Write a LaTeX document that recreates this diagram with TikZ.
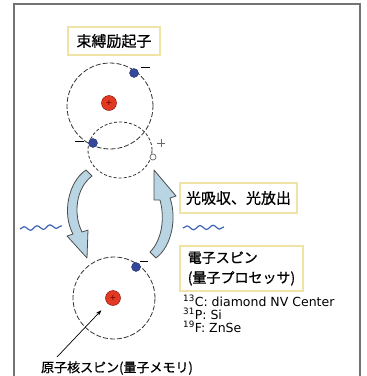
\documentclass[tikz,border=0pt]{standalone}
\usepackage{fontspec}
\setmainfont{DejaVu Sans}
\newfontfamily\jp[FakeBold=0.8]{Noto Sans CJK JP}
\usetikzlibrary{arrows.meta,decorations.pathmorphing}
\definecolor{nucred}{HTML}{E23A22}
\definecolor{elecblue}{HTML}{34479A}
\definecolor{bandblue}{HTML}{B9D5E4}
\definecolor{boxyellow}{HTML}{EFE4A6}
\definecolor{waveblue}{HTML}{3E63B8}
\tikzset{
	nucleus/.style={circle,draw=red!50!black,fill=nucred,inner sep=0,minimum size=15pt,font=\fontsize{8}{8}\selectfont,text=red!40!black},
	electron/.style={circle,draw=elecblue!70!black,fill=elecblue,inner sep=0,minimum size=9pt},
	orbit/.style={draw=black!80,dash pattern=on 5pt off 2pt,line width=.8pt},
	labelbox/.style={draw=boxyellow,line width=1.2pt,inner sep=0,font=\jp\fontsize{15}{18}\selectfont},
	band/.style={draw=black!70,fill=bandblue,line width=.8pt,line join=round},
	photon/.style={waveblue,line width=1.2pt,decorate,decoration={snake,segment length=13pt,amplitude=2pt}}
}
\begin{document}
\begin{tikzpicture}[x=1pt,y=-1pt]
\useasboundingbox (0,0) rectangle (367,376);
\draw[black!55,line width=1.2pt] (14,382) -- (14,4) -- (360,4) -- (360,382);
\draw[orbit] (110,106) circle[radius=43pt];
\draw[orbit,dash pattern=on 3pt off 2pt] (120,150) ellipse[x radius=32pt,y radius=28pt];
\draw[orbit] (114,298) circle[radius=41pt];
\node[nucleus] (nuc1) at (109,103) {+};
\node[electron] (e1) at (134,73) {};
\node[electron] (e2) at (93,143) {};
\node[circle,draw=black!60,fill=white,line width=.7pt,inner sep=0,minimum size=6pt] (hole) at (153,157) {};
\node[nucleus] (nuc2) at (113,298) {+};
\node[electron] (e3) at (136,267) {};
\draw[line width=.8pt] (141,67) -- (150,67);
\draw[line width=.8pt] (75,141) -- (84,141);
\draw[line width=.8pt] (140,261) -- (148,261);
\draw[black!60,line width=.6pt] (157,143) -- (165,143) (161,139) -- (161,147);
\draw[band] (86,170) .. controls (68,182) and (62,214) .. (73,234) -- (67,236) -- (87,258) -- (88,230) -- (82,232)
	.. controls (73,214) and (76,188) .. (92,176) -- cycle;
\draw[band] (156,258) .. controls (172,246) and (177,218) .. (170,198) -- (176,196) -- (154,170) -- (154,200) -- (160,200)
	.. controls (165,218) and (162,240) .. (150,252) -- cycle;
\draw[photon] (20,229) -- (62,226);
\draw[photon] (183,228) -- (224,227);
\node[labelbox,minimum width=92pt,minimum height=28pt] (exciton) at (114,41) {束縛励起子};
\node[labelbox,minimum width=117pt,minimum height=30pt] (optical) at (238.5,198) {光吸収、光放出};
\node[labelbox,minimum width=123pt,minimum height=45pt,align=left,font=\jp\fontsize{14}{20}\selectfont] (espin) at (241.5,268.5) {電子スピン\\(量子プロセッサ)};
\node[anchor=north west,align=left,inner sep=0,font=\fontsize{12.5}{13}\selectfont] (isotopes) at (183,295)
	{\textsuperscript{13}C: diamond NV Center\\\textsuperscript{31}P: Si\\\textsuperscript{19}F: ZnSe};
\node[font=\jp\fontsize{13}{13}\selectfont] (memory) at (117,368) {原子核スピン(量子メモリ)};
\coordinate (memtail) at (57,357);
\draw[-{Stealth[length=6pt,width=4pt]},line width=.7pt,shorten >=9pt] (memtail) -- (nuc2);
\end{tikzpicture}
\end{document}
